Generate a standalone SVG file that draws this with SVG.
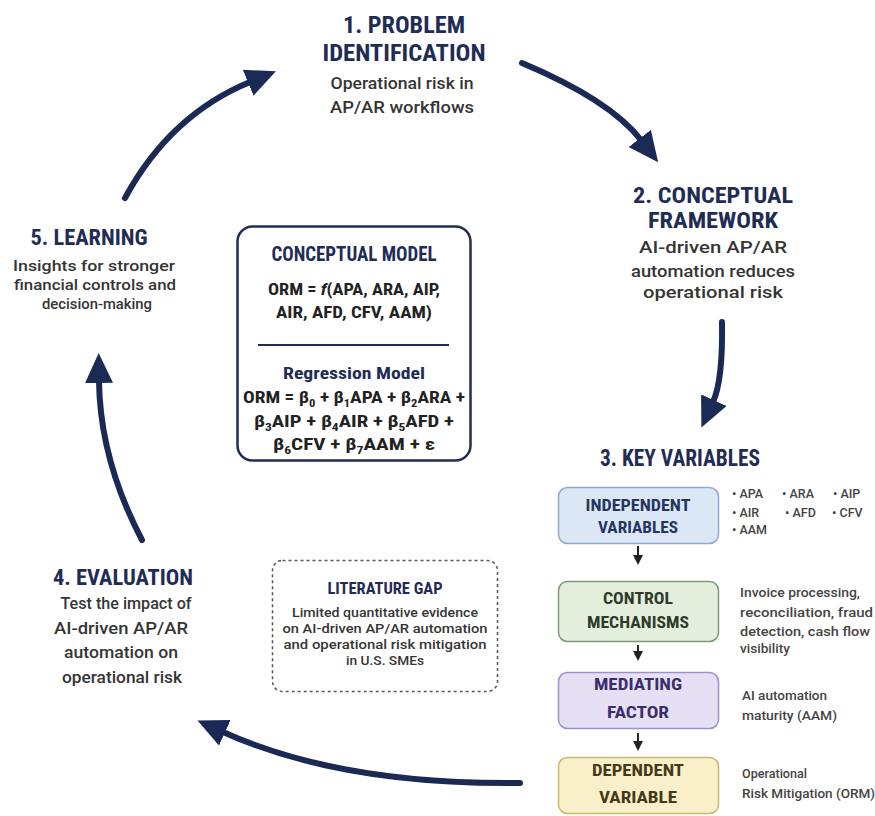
<svg xmlns="http://www.w3.org/2000/svg" width="875" height="816" viewBox="0 0 875 816">
<defs>
<marker id="big" viewBox="0 0 30 28" refX="2" refY="14" markerWidth="30" markerHeight="28" markerUnits="userSpaceOnUse" orient="auto">
<path d="M0,0 L30,14 L0,28 z" fill="#1b2a55"/>
</marker>
<marker id="small" viewBox="0 0 10 10" refX="1" refY="5" markerWidth="10" markerHeight="10" markerUnits="userSpaceOnUse" orient="auto">
<path d="M0,0 L10,5 L0,10 z" fill="#222"/>
</marker>
<style>
.ttl{font-family:"Roboto Condensed","DejaVu Sans Condensed","DejaVu Sans",sans-serif;font-stretch:condensed;font-weight:bold;fill:#1f2c56;text-anchor:middle}
.body{font-family:Roboto,"Noto Sans",sans-serif;font-weight:500;fill:#353535;text-anchor:middle}
.small{font-family:Roboto,"Noto Sans",sans-serif;font-weight:500;fill:#444;font-size:12.5px}
.eq{font-family:"Roboto Condensed","DejaVu Sans Condensed","DejaVu Sans",sans-serif;font-stretch:condensed;font-weight:bold;fill:#222;text-anchor:middle;font-size:17px}
.box{font-family:"Roboto Condensed","DejaVu Sans Condensed","DejaVu Sans",sans-serif;font-stretch:condensed;font-weight:bold;text-anchor:middle;font-size:16px}
.arrow{fill:none;stroke:#1b2a55;stroke-width:6;stroke-linecap:round;marker-end:url(#big)}
.sarrow{fill:none;stroke:#222;stroke-width:2;marker-end:url(#small)}
</style>
</defs>
<rect width="875" height="816" fill="#ffffff"/>

<g id="connectors">
<path class="arrow" d="M125,198 Q170,115 250,82"/>
<path class="arrow" d="M522,63 Q610,100 641,140"/>
<path class="arrow" d="M722,322 Q723,380 713,402"/>
<path class="arrow" d="M520,783 Q340,785 223,732"/>
<path class="arrow" d="M142,540 Q100,460 99,381"/>
<path class="sarrow" d="M638,546 L638,556"/>
<path class="sarrow" d="M638,645 L638,652"/>
<path class="sarrow" d="M638,733 L638,742"/>
</g>

<g id="problem-identification">
<text class="ttl" x="404" y="33" font-size="23" textLength="122" lengthAdjust="spacingAndGlyphs">1. PROBLEM</text>
<text class="ttl" x="404" y="61" font-size="23" textLength="163" lengthAdjust="spacingAndGlyphs">IDENTIFICATION</text>
<text class="body" x="402" y="89" font-size="16" textLength="143" lengthAdjust="spacingAndGlyphs">Operational risk in</text>
<text class="body" x="402" y="113" font-size="16" textLength="144" lengthAdjust="spacingAndGlyphs">AP/AR workflows</text>
</g>

<g id="conceptual-framework">
<text class="ttl" x="713" y="203" font-size="22" textLength="160" lengthAdjust="spacingAndGlyphs">2. CONCEPTUAL</text>
<text class="ttl" x="713" y="228" font-size="22" textLength="130" lengthAdjust="spacingAndGlyphs">FRAMEWORK</text>
<text class="body" x="713" y="253" font-size="16" textLength="148" lengthAdjust="spacingAndGlyphs">AI-driven AP/AR</text>
<text class="body" x="713" y="277" font-size="16" textLength="164" lengthAdjust="spacingAndGlyphs">automation reduces</text>
<text class="body" x="713" y="298" font-size="16" textLength="140" lengthAdjust="spacingAndGlyphs">operational risk</text>
</g>

<g id="learning">
<text class="ttl" x="89" y="245" font-size="22" textLength="117" lengthAdjust="spacingAndGlyphs">5. LEARNING</text>
<text class="body" x="94" y="271" font-size="15" textLength="162" lengthAdjust="spacingAndGlyphs">Insights for stronger</text>
<text class="body" x="95" y="290" font-size="15" textLength="162" lengthAdjust="spacingAndGlyphs">financial controls and</text>
<text class="body" x="97" y="309" font-size="15" textLength="110" lengthAdjust="spacingAndGlyphs">decision-making</text>
</g>

<g id="evaluation">
<text class="ttl" x="123" y="585" font-size="22" textLength="140" lengthAdjust="spacingAndGlyphs">4. EVALUATION</text>
<text class="body" x="126" y="609" font-size="16" textLength="131" lengthAdjust="spacingAndGlyphs">Test the impact of</text>
<text class="body" x="121" y="634" font-size="16" textLength="134" lengthAdjust="spacingAndGlyphs">AI-driven AP/AR</text>
<text class="body" x="121" y="658" font-size="16" textLength="114" lengthAdjust="spacingAndGlyphs">automation on</text>
<text class="body" x="122" y="683" font-size="16" textLength="120" lengthAdjust="spacingAndGlyphs">operational risk</text>
</g>

<g id="conceptual-model">
<rect x="237.5" y="226.5" width="233" height="234" rx="15" fill="#ffffff" stroke="#1f2c56" stroke-width="2.5"/>
<text class="ttl" x="354" y="261" font-size="20" textLength="165" lengthAdjust="spacingAndGlyphs">CONCEPTUAL MODEL</text>
<text class="eq" x="354" y="295" textLength="172" lengthAdjust="spacingAndGlyphs">ORM = <tspan font-style="italic">f</tspan>(APA, ARA, AIP,</text>
<text class="eq" x="354" y="318" textLength="156" lengthAdjust="spacingAndGlyphs">AIR, AFD, CFV, AAM)</text>
<line x1="258" y1="345" x2="449" y2="345" stroke="#1f2c56" stroke-width="2"/>
<text class="ttl" x="354" y="379" font-size="17" textLength="142" lengthAdjust="spacingAndGlyphs">Regression Model</text>
<text class="eq" x="354" y="403" textLength="222" lengthAdjust="spacingAndGlyphs">ORM = β<tspan font-size="11" dy="4">0</tspan><tspan dy="-4"> + β</tspan><tspan font-size="11" dy="4">1</tspan><tspan dy="-4">APA + β</tspan><tspan font-size="11" dy="4">2</tspan><tspan dy="-4">ARA +</tspan></text>
<text class="eq" x="354" y="427" textLength="200" lengthAdjust="spacingAndGlyphs">β<tspan font-size="11" dy="4">3</tspan><tspan dy="-4">AIP + β</tspan><tspan font-size="11" dy="4">4</tspan><tspan dy="-4">AIR + β</tspan><tspan font-size="11" dy="4">5</tspan><tspan dy="-4">AFD +</tspan></text>
<text class="eq" x="354" y="450" textLength="162" lengthAdjust="spacingAndGlyphs">β<tspan font-size="11" dy="4">6</tspan><tspan dy="-4">CFV + β</tspan><tspan font-size="11" dy="4">7</tspan><tspan dy="-4">AAM + ε</tspan></text>
</g>

<g id="literature-gap">
<rect x="272.5" y="560.5" width="225" height="131" rx="10" fill="#ffffff" stroke="#555" stroke-width="1.5" stroke-dasharray="3,3"/>
<text class="ttl" x="385" y="594" font-size="16" textLength="115" lengthAdjust="spacingAndGlyphs">LITERATURE GAP</text>
<text class="body" x="385" y="617" font-size="13" textLength="186" lengthAdjust="spacingAndGlyphs">Limited quantitative evidence</text>
<text class="body" x="385" y="633" font-size="13" textLength="205" lengthAdjust="spacingAndGlyphs">on AI-driven AP/AR automation</text>
<text class="body" x="385" y="649" font-size="13" textLength="203" lengthAdjust="spacingAndGlyphs">and operational risk mitigation</text>
<text class="body" x="385" y="665" font-size="13" textLength="78" lengthAdjust="spacingAndGlyphs">in U.S. SMEs</text>
</g>

<g id="key-variables">
<text class="ttl" x="680" y="466" font-size="23" textLength="160" lengthAdjust="spacingAndGlyphs">3. KEY VARIABLES</text>
</g>

<g id="independent-variables">
<rect x="558.5" y="487.5" width="160" height="56" rx="9" fill="#dce7f6" stroke="#8fa9cf" stroke-width="1.5"/>
<text class="box" x="638" y="511" fill="#26365f" textLength="105" lengthAdjust="spacingAndGlyphs">INDEPENDENT</text>
<text class="box" x="638" y="533" fill="#26365f" textLength="80" lengthAdjust="spacingAndGlyphs">VARIABLES</text>
<text class="small" y="498"><tspan x="732">• APA</tspan><tspan x="782">• ARA</tspan><tspan x="833">• AIP</tspan></text>
<text class="small" y="517"><tspan x="732">• AIR</tspan><tspan x="785">• AFD</tspan><tspan x="832">• CFV</tspan></text>
<text class="small" y="534"><tspan x="732">• AAM</tspan></text>
</g>

<g id="control-mechanisms">
<rect x="558.5" y="581.5" width="160" height="60" rx="9" fill="#e3eedd" stroke="#7f9a75" stroke-width="1.5"/>
<text class="box" x="638" y="604" fill="#2e3b2b" textLength="70" lengthAdjust="spacingAndGlyphs">CONTROL</text>
<text class="box" x="638" y="628" fill="#2e3b2b" textLength="102" lengthAdjust="spacingAndGlyphs">MECHANISMS</text>
<text class="small" x="740" y="597" textLength="120" lengthAdjust="spacingAndGlyphs">Invoice processing,</text>
<text class="small" x="740" y="617" textLength="133" lengthAdjust="spacingAndGlyphs">reconciliation, fraud</text>
<text class="small" x="740" y="636" textLength="130" lengthAdjust="spacingAndGlyphs">detection, cash flow</text>
<text class="small" x="740" y="653" textLength="50" lengthAdjust="spacingAndGlyphs">visibility</text>
</g>

<g id="mediating-factor">
<rect x="558.5" y="672.5" width="160" height="56" rx="9" fill="#e6e0f5" stroke="#9d90cc" stroke-width="1.5"/>
<text class="box" x="638" y="690" fill="#3a2f6a" textLength="88" lengthAdjust="spacingAndGlyphs">MEDIATING</text>
<text class="box" x="638" y="718" fill="#3a2f6a" textLength="62" lengthAdjust="spacingAndGlyphs">FACTOR</text>
<text class="small" x="742" y="700" textLength="85" lengthAdjust="spacingAndGlyphs">AI automation</text>
<text class="small" x="742" y="720" textLength="95" lengthAdjust="spacingAndGlyphs">maturity (AAM)</text>
</g>

<g id="dependent-variable">
<rect x="558.5" y="757.5" width="160" height="56" rx="9" fill="#f9efc9" stroke="#cdb76a" stroke-width="1.5"/>
<text class="box" x="638" y="776" fill="#45391a" textLength="92" lengthAdjust="spacingAndGlyphs">DEPENDENT</text>
<text class="box" x="638" y="803" fill="#45391a" textLength="78" lengthAdjust="spacingAndGlyphs">VARIABLE</text>
<text class="small" x="742" y="778" textLength="65" lengthAdjust="spacingAndGlyphs">Operational</text>
<text class="small" x="742" y="798" textLength="133" lengthAdjust="spacingAndGlyphs">Risk Mitigation (ORM)</text>
</g>
</svg>
